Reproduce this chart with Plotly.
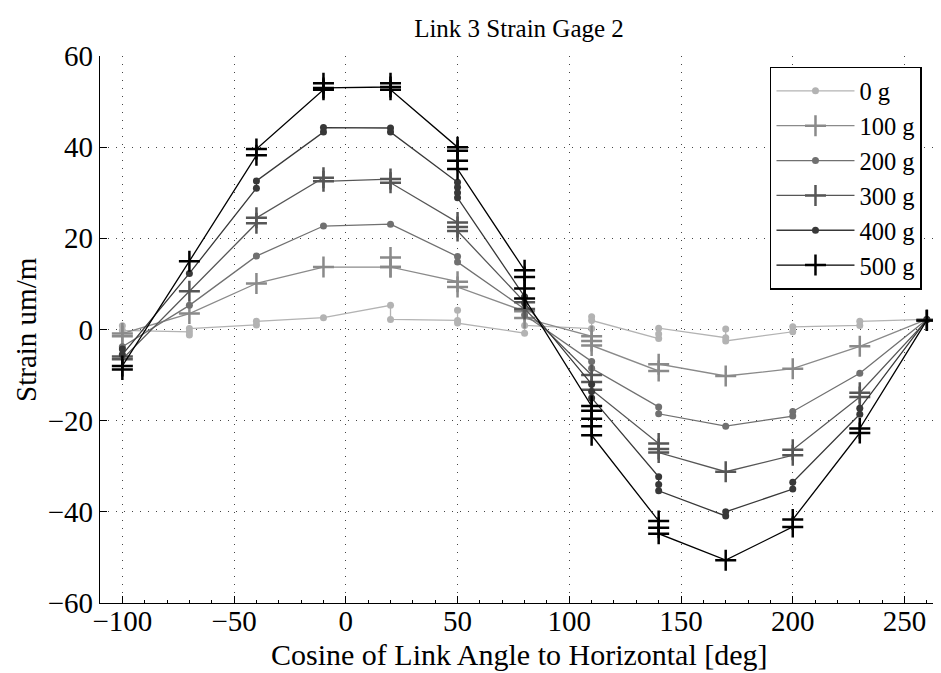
import plotly.graph_objects as go

# Angles (deg) at which strain was measured
angles = [-100, -70, -40, -10, 20, 50, 80, 110, 140, 170, 200, 230, 260]

# Repeated strain readings (um/m) at each angle, per load
g0 = [[0.8, -0.2], [-0.5, -1.2, 0.2], [1.0, 1.8], [2.6], [5.3, 2.2], [2.0, 4.2, 1.4],
      [-0.8, 0.9], [0.2, 2.8, 2.0], [-2.0, -1.0, 0.3], [-1.8, 0.1, -2.5], [-0.5, 0.6],
      [0.9, 1.8], [2.2]]
g100 = [[-1.5, -0.9], [3.5], [10.1], [13.7], [13.7, 15.8, 13.7], [10.5, 9.3],
        [4.0, 2.5], [-1.5, -2.5, -3.5], [-9.1, -7.6], [-10.2], [-8.6], [-3.7], [2.2]]
g200 = [[-3.8], [5.3], [16.1], [22.7], [23.1], [16.0, 14.8], [4.5, 3.2], [-7.0, -8.5],
        [-17.0, -18.5], [-21.2], [-19.0, -18.0], [-9.6], [2.2]]
g300 = [[-5.9, -6.5], [8.4], [23.3, 24.5], [33.3, 32.5], [33.0, 32.2], [23.5, 22.5, 21.6],
        [6.0, 4.5], [-10.0, -11.5, -13.2], [-25.0, -26.2, -27.0], [-31.2], [-27.6, -26.4],
        [-14.8, -13.9], [2.0]]
g400 = [[-4.3, -5.5], [12.3], [31.0, 32.6], [43.3, 44.3], [44.2, 43.3],
        [32.3, 31.2, 30.0, 28.9], [7.2, 5.8], [-12.0, -13.6, -15.0],
        [-32.3, -34.0, -35.4], [-40.9, -40.0], [-35.0, -33.5], [-18.6, -17.3], [2.2]]
g500 = [[-8.8, -8.0], [15.0], [38.2, 39.6], [52.6, 54.0, 53.0], [53.2, 54.0, 52.6],
        [40.0, 39.2, 37.0, 35.2], [13.0, 11.5, 9.0, 6.8], [-16.8, -17.8, -19.6, -21.2, -23.2],
        [-42.0, -43.5, -44.8], [-50.6], [-43.3, -41.7], [-22.7, -21.7], [2.0]]

series_names = ["0 g", "100 g", "200 g", "300 g", "400 g", "500 g"]
series_data = [g0, g100, g200, g300, g400, g500]
series_colors = ["#b3b3b3", "#8a8a8a", "#707070", "#565656", "#383838", "#000000"]
series_markers = ["dot", "plus", "dot", "plus", "dot", "plus"]

x_ticks = [-100, -50, 0, 50, 100, 150, 200, 250]
y_ticks = [-60, -40, -20, 0, 20, 40, 60]

FONT = "Liberation Serif"

fig = go.Figure()
for i, (name, data, col, mk) in enumerate(zip(series_names, series_data, series_colors, series_markers)):
    xs, ys = [], []
    for a, vals in zip(angles, data):
        for v in vals:
            xs.append(a)
            ys.append(v)
    if mk == "dot":
        marker = dict(symbol="circle", size=7, color=col, line=dict(width=0))
    else:
        marker = dict(symbol="cross-thin", size=15, color=col, line=dict(width=2.5, color=col))
    fig.add_trace(go.Scatter(x=xs, y=ys, mode="lines+markers", name=name,
                             line=dict(color=col, width=1.3), marker=marker))

# page body has an 8px margin, compensate in the figure margins
fig.update_layout(
    width=941, height=673,
    paper_bgcolor="white", plot_bgcolor="white",
    margin=dict(l=92, r=11, t=48, b=78),
    font=dict(family=FONT, size=26, color="black"),
    title=dict(text="Link 3 Strain Gage 2", x=0.5, xref="paper", xanchor="center",
               y=1 - 20 / 673, yanchor="middle", yref="container",
               font=dict(family=FONT, size=25, color="black")),
    showlegend=True,
    legend=dict(x=0.7995, y=0.98, xanchor="left", yanchor="top",
                bordercolor="black", borderwidth=1.5, bgcolor="white",
                font=dict(family=FONT, size=24.5, color="black"),
                itemwidth=78),
    annotations=[
        dict(text="Cosine of Link Angle to Horizontal [deg]", xref="paper", yref="paper",
             x=0.5, y=-0.095, xanchor="center", yanchor="middle", showarrow=False,
             font=dict(family=FONT, size=30, color="black")),
        dict(text="Strain um/m", xref="paper", yref="paper", textangle=-90,
             x=-0.089, y=0.5, xanchor="center", yanchor="middle", showarrow=False,
             font=dict(family=FONT, size=29, color="black")),
    ],
)

fig.update_xaxes(range=[-110, 265], tickvals=x_ticks, ticks="inside", ticklen=7,
                 tickcolor="black", showline=True, linecolor="black", linewidth=1.2,
                 showgrid=True, gridcolor="#444444", gridwidth=1, griddash="1px,7px",
                 zeroline=False, tickfont=dict(family=FONT, size=29), automargin=False,
                 ticklabelstandoff=-8,
                 minor=dict(dtick=10, ticks="inside", ticklen=3, tickcolor="black", showgrid=False))
fig.update_yaxes(range=[-60, 60], tickvals=y_ticks, ticks="inside", ticklen=7,
                 tickcolor="black", showline=True, linecolor="black", linewidth=1.2,
                 showgrid=True, gridcolor="#444444", gridwidth=1, griddash="1px,7px",
                 zeroline=False, tickfont=dict(family=FONT, size=29), automargin=False)

fig.write_html("out.html")
